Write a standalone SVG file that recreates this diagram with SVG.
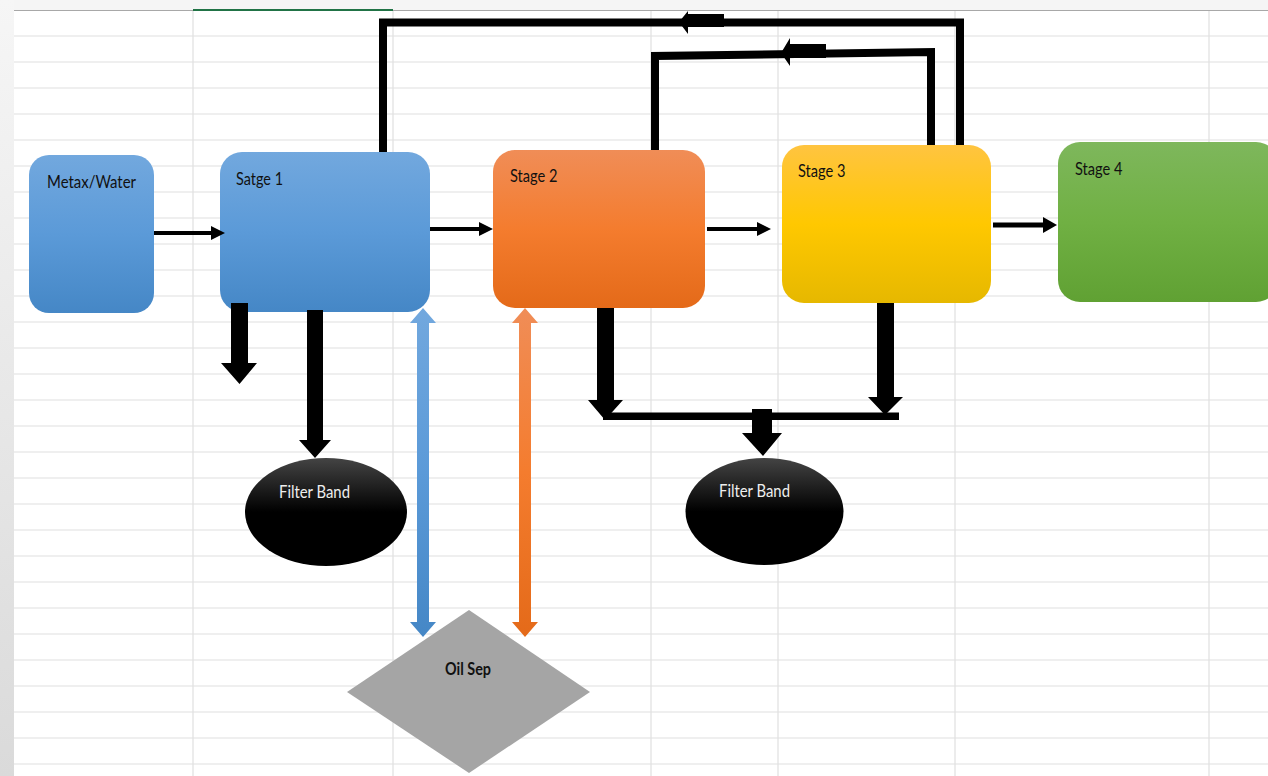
<svg xmlns="http://www.w3.org/2000/svg" width="1268" height="776" viewBox="0 0 1268 776">
<defs>
<linearGradient id="gBlue" x1="0" y1="0" x2="0" y2="1"><stop offset="0" stop-color="#72a8de"/><stop offset="0.5" stop-color="#5b9ad8"/><stop offset="1" stop-color="#4587c6"/></linearGradient>
<linearGradient id="gOrange" x1="0" y1="0" x2="0" y2="1"><stop offset="0" stop-color="#f08d57"/><stop offset="0.5" stop-color="#f47c2e"/><stop offset="1" stop-color="#e46a19"/></linearGradient>
<linearGradient id="gYellow" x1="0" y1="0" x2="0" y2="1"><stop offset="0" stop-color="#ffc440"/><stop offset="0.5" stop-color="#ffc800"/><stop offset="1" stop-color="#e6b800"/></linearGradient>
<linearGradient id="gGreen" x1="0" y1="0" x2="0" y2="1"><stop offset="0" stop-color="#7eb75c"/><stop offset="0.5" stop-color="#70b043"/><stop offset="1" stop-color="#60a133"/></linearGradient>
<linearGradient id="gBlack" x1="0" y1="0" x2="0" y2="1"><stop offset="0" stop-color="#444444"/><stop offset="0.5" stop-color="#000000"/><stop offset="1" stop-color="#000000"/></linearGradient>
<linearGradient id="gLeft" x1="0" y1="0" x2="0" y2="1"><stop offset="0" stop-color="#f6f6f6"/><stop offset="1" stop-color="#dadada"/></linearGradient>
<style>
.grid{stroke:#e0e0e0;stroke-width:1.2;fill:none}
.lbl{font-family:Lato,"Liberation Sans",sans-serif;font-size:16.5px;fill:#111}
.wlbl{font-family:Lato,"Liberation Sans",sans-serif;font-size:16.5px;fill:#eeeeee}
.blk{fill:#000}
.ln{stroke:#000;fill:none}
</style>
</defs>
<g id="background">
<rect x="0" y="0" width="1268" height="776" fill="#ffffff"/>
<rect x="0" y="0" width="1268" height="10" fill="#f5f5f5"/>
<rect x="0" y="0" width="14" height="776" fill="url(#gLeft)"/>
<g class="grid">
<path d="M14,36H1268M14,62H1268M14,88H1268M14,114H1268M14,140H1268M14,166H1268M14,192H1268M14,218H1268M14,244H1268M14,270H1268M14,296H1268M14,322H1268M14,348H1268M14,374H1268M14,400H1268M14,426H1268M14,452H1268M14,478H1268M14,504H1268M14,530H1268M14,556H1268M14,582H1268M14,608H1268M14,634H1268M14,660H1268M14,686H1268M14,712H1268M14,738H1268M14,764H1268"/>
<path d="M193,10V776M393,10V776M651,10V776M778,10V776M955,10V776M1209,10V776"/>
</g>
<line x1="14" y1="10.5" x2="1268" y2="10.5" stroke="#a8a8a8" stroke-width="1.2"/>
<line x1="193" y1="10" x2="393" y2="10" stroke="#217346" stroke-width="2"/>
</g>
<g id="node-metax">
<rect x="29" y="155" width="125" height="158" rx="20" fill="url(#gBlue)"/>
<text class="lbl" x="47" y="188" textLength="89" lengthAdjust="spacingAndGlyphs">Metax/Water</text>
</g>
<g id="node-stage1">
<rect x="220" y="152" width="210" height="160" rx="22" fill="url(#gBlue)"/>
<text class="lbl" x="236" y="185" textLength="47" lengthAdjust="spacingAndGlyphs">Satge 1</text>
</g>
<g id="node-stage2">
<rect x="493" y="150" width="212" height="158" rx="22" fill="url(#gOrange)"/>
<text class="lbl" x="510" y="182" textLength="47.5" lengthAdjust="spacingAndGlyphs">Stage 2</text>
</g>
<g id="node-stage3">
<rect x="782" y="145" width="209" height="158" rx="22" fill="url(#gYellow)"/>
<text class="lbl" x="798" y="177" textLength="47.5" lengthAdjust="spacingAndGlyphs">Stage 3</text>
</g>
<g id="node-stage4">
<rect x="1058" y="142" width="220" height="160" rx="22" fill="url(#gGreen)"/>
<text class="lbl" x="1075" y="175" textLength="47.5" lengthAdjust="spacingAndGlyphs">Stage 4</text>
</g>
<g id="node-filter1">
<ellipse cx="326" cy="512" rx="81" ry="54" fill="url(#gBlack)"/>
<text class="wlbl" x="279" y="498" textLength="71" lengthAdjust="spacingAndGlyphs">Filter Band</text>
</g>
<g id="node-filter2">
<ellipse cx="764.5" cy="511.5" rx="79" ry="53.5" fill="url(#gBlack)"/>
<text class="wlbl" x="719" y="497" textLength="71" lengthAdjust="spacingAndGlyphs">Filter Band</text>
</g>
<g id="node-oilsep">
<polygon points="469,610 590,692 469,773 347,692" fill="#a5a5a5"/>
<text class="lbl" x="445" y="675" font-weight="bold" textLength="46" lengthAdjust="spacingAndGlyphs">Oil Sep</text>
</g>
<g id="connectors">
<line class="ln" x1="154" y1="233" x2="213" y2="233" stroke-width="4"/>
<polygon class="blk" points="211,226 225,233 211,240"/>
<line class="ln" x1="430" y1="229" x2="481" y2="229" stroke-width="4"/>
<polygon class="blk" points="479,222 493,229 479,236"/>
<line class="ln" x1="707" y1="229" x2="759" y2="229" stroke-width="4"/>
<polygon class="blk" points="757,222 771,229 757,236"/>
<line class="ln" x1="993" y1="225" x2="1045" y2="225" stroke-width="5"/>
<polygon class="blk" points="1043,217 1057,225 1043,233"/>
<path class="ln" d="M960,145V22.5H383V152" stroke-width="8" stroke-linejoin="miter"/>
<polygon class="blk" points="679,22 688,11 688,14 724,14 724,27 688,27 688,34"/>
<path class="ln" d="M931,145V52L655,56V150" stroke-width="8" stroke-linejoin="miter"/>
<polygon class="blk" points="781,53 790,38 790,44 826,44 826,58 790,58 790,66"/>
<polygon class="blk" points="231,303 248,303 248,363 257,363 239.5,384 221,363 231,363"/>
<polygon class="blk" points="307,310 323,310 323,440 331,440 315,458 299,440 307,440"/>
<polygon fill="url(#gBlue)" points="423,308 436,323 429,323 429,622 436,622 423,637 410,622 417,622 417,323 410,323"/>
<polygon fill="url(#gOrange)" points="525,308 538,323 531,323 531,622 538,622 525,637 512,622 519,622 519,323 512,323"/>
<polygon class="blk" points="597,308 614,308 614,400 623,400 605,420 588,400 597,400"/>
<polygon class="blk" points="877,303 894,303 894,397 903,397 885,415 868,397 877,397"/>
<rect class="blk" x="603" y="412.5" width="296" height="7.5"/>
<polygon class="blk" points="752,409 772,409 772,433 782,433 763,456 742,433 752,433"/>
</g>
</svg>
